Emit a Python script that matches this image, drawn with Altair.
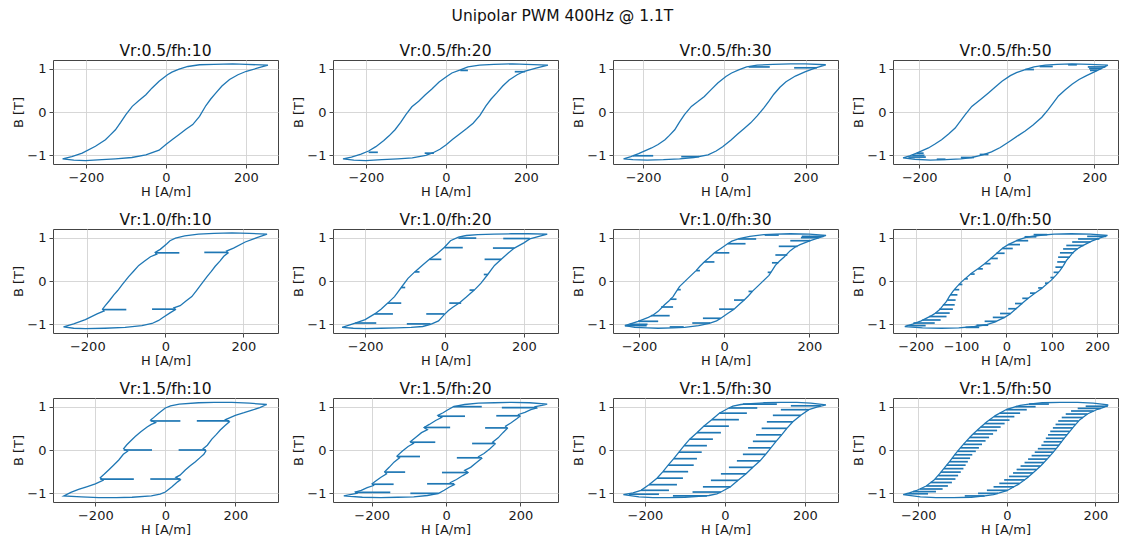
import altair as alt
import pandas as pd

FONT = "DejaVu Sans"
BLUE = "#1f77b4"
SUPTITLE = "Unipolar PWM 400Hz @ 1.1T"

# ---------------- data: (H [A/m], B [T]) ----------------
# upper branch: right tip -> left tip ; lower branch: left tip -> right tip
# spikes (minor loops): (B, H at branch, H at tip)

A_up = [(255,1.08),(200,1.10),(167,1.11),(120,1.10),(84,1.09),(55,1.05),(33,0.99),(15,0.92),(4,0.86),(-17,0.71),(-35,0.55),(-50,0.40),(-68,0.26),(-84,0.13),(-100,-0.06),(-113,-0.24),(-126,-0.41),(-140,-0.54),(-151,-0.64),(-176,-0.79),(-209,-0.95),(-235,-1.03),(-258,-1.08)]
A_lo = [(-230,-1.11),(-201,-1.12),(-160,-1.10),(-126,-1.08),(-85,-1.05),(-50,-0.99),(-17,-0.88),(0,-0.75),(17,-0.63),(33,-0.52),(50,-0.40),(67,-0.29),(84,-0.10),(100,0.15),(112,0.30),(125,0.44),(140,0.60),(159,0.75),(180,0.86),(201,0.94),(228,1.01),(255,1.08)]
A_spk = []

B_up = [(255,1.08),(200,1.10),(167,1.11),(120,1.10),(84,1.08),(55,1.04),(36,0.97),(15,0.90),(2,0.82),(-17,0.69),(-35,0.53),(-52,0.39),(-68,0.25),(-85,0.12),(-100,-0.06),(-113,-0.24),(-127,-0.41),(-142,-0.55),(-155,-0.66),(-175,-0.80),(-193,-0.90),(-212,-0.97),(-236,-1.04),(-257,-1.08)]
B_lo = [(-230,-1.11),(-200,-1.12),(-160,-1.10),(-120,-1.08),(-84,-1.06),(-50,-1.00),(-32,-0.94),(-15,-0.86),(0,-0.76),(17,-0.63),(35,-0.50),(52,-0.38),(68,-0.26),(85,-0.08),(100,0.14),(113,0.30),(127,0.44),(142,0.60),(158,0.74),(178,0.86),(196,0.94),(225,1.01),(255,1.08)]
B_spk = [(0.96,36,55),(0.93,198,172),(-0.93,-193,-170),(-0.95,-30,-53)]

C_up = [(250,1.09),(200,1.11),(163,1.11),(120,1.10),(81,1.08),(55,1.04),(37,0.98),(18,0.90),(4,0.82),(-16,0.67),(-33,0.51),(-49,0.36),(-65,0.24),(-81,0.13),(-98,-0.06),(-110,-0.23),(-122,-0.41),(-135,-0.54),(-146,-0.64),(-163,-0.75),(-179,-0.83),(-211,-0.96),(-230,-1.03),(-248,-1.08)]
C_lo = [(-225,-1.10),(-190,-1.11),(-150,-1.10),(-110,-1.08),(-75,-1.05),(-40,-0.99),(-20,-0.90),(-4,-0.80),(16,-0.65),(33,-0.51),(49,-0.38),(65,-0.25),(81,-0.09),(98,0.10),(110,0.25),(122,0.41),(137,0.57),(152,0.70),(175,0.83),(200,0.93),(225,1.02),(250,1.09)]
C_spk = [(1.04,60,112),(1.02,228,172),(-1.01,-225,-175),(-1.03,-62,-106)]

D_up = [(231,1.08),(190,1.10),(149,1.11),(115,1.10),(88,1.08),(62,1.04),(42,0.98),(22,0.91),(8,0.84),(-11,0.71),(-27,0.57),(-42,0.44),(-60,0.29),(-80,0.13),(-95,-0.06),(-107,-0.22),(-118,-0.37),(-133,-0.51),(-149,-0.64),(-164,-0.74),(-179,-0.83),(-206,-0.95),(-222,-1.01),(-237,-1.06)]
D_lo = [(-210,-1.09),(-175,-1.11),(-140,-1.10),(-105,-1.08),(-80,-1.05),(-55,-0.99),(-35,-0.92),(-15,-0.82),(6,-0.68),(25,-0.55),(42,-0.44),(60,-0.30),(80,-0.12),(95,0.06),(107,0.22),(118,0.37),(133,0.51),(149,0.64),(165,0.75),(182,0.84),(205,0.95),(231,1.08)]
D_spk = [(0.98,42,62),(1.05,75,105),(1.09,140,160),(1.04,225,185),(1.00,216,188),(0.96,206,190),(-1.04,-225,-185),(-1.00,-216,-188),(-0.95,-206,-190),(-0.98,-42,-62),(-1.05,-75,-105),(-1.09,-140,-160)]

E_up = [(261,1.08),(215,1.10),(171,1.11),(125,1.10),(85,1.08),(50,1.04),(26,0.99),(12,0.93),(4,0.86),(-13,0.73),(-26,0.66),(-22,0.62),(-38,0.56),(-53,0.46),(-68,0.36),(-82,0.22),(-94,0.10),(-111,-0.09),(-122,-0.22),(-132,-0.32),(-143,-0.45),(-154,-0.57),(-161,-0.65),(-157,-0.69),(-175,-0.76),(-205,-0.89),(-235,-0.99),(-261,-1.06)]
E_lo = [(-235,-1.09),(-205,-1.10),(-155,-1.09),(-103,-1.07),(-60,-1.03),(-34,-0.98),(-17,-0.91),(-7,-0.85),(13,-0.73),(26,-0.66),(22,-0.62),(38,-0.57),(53,-0.46),(68,-0.36),(80,-0.22),(91,-0.09),(107,0.10),(118,0.22),(128,0.34),(140,0.46),(150,0.57),(161,0.65),(157,0.69),(175,0.76),(205,0.90),(235,1.00),(261,1.08)]
E_spk = [(0.65,-26,36),(-0.66,-161,-100),(-0.65,26,-34),(0.66,161,100)]

F_up = [(259,1.08),(210,1.09),(168,1.09),(125,1.08),(84,1.07),(55,1.05),(35,1.01),(15,0.93),(0,0.78),(-10,0.70),(-20,0.62),(-38,0.50),(-55,0.37),(-75,0.21),(-92,0.06),(-109,-0.15),(-118,-0.26),(-126,-0.36),(-143,-0.51),(-160,-0.65),(-176,-0.76),(-200,-0.89),(-225,-0.97),(-258,-1.07)]
F_lo = [(-230,-1.09),(-200,-1.10),(-160,-1.09),(-120,-1.08),(-84,-1.07),(-55,-1.05),(-35,-1.00),(-15,-0.92),(0,-0.77),(10,-0.68),(20,-0.61),(38,-0.50),(55,-0.37),(75,-0.21),(92,-0.05),(109,0.15),(118,0.26),(126,0.36),(143,0.50),(160,0.64),(176,0.76),(200,0.88),(215,0.97),(259,1.08)]
F_spk = [(0.99,35,80),(0.77,0,46),(0.50,-38,-8),(0.21,-75,-63),(-0.15,-109,-99),(-0.51,-143,-109),(-0.76,-176,-130),(-0.97,-225,-172),
         (-0.99,-35,-95),(-0.76,0,-46),(-0.51,42,12),(-0.21,75,63),(0.15,109,99),(0.50,143,101),(0.76,176,122),(0.98,215,148)]

G_up = [(239,1.05),(200,1.08),(155,1.09),(120,1.08),(93,1.07),(60,1.03),(35,0.98),(18,0.92),(8,0.86),(-8,0.75),(-23,0.65),(-35,0.54),(-47,0.44),(-57,0.34),(-66,0.24),(-85,0.06),(-105,-0.13),(-113,-0.25),(-120,-0.36),(-130,-0.46),(-140,-0.55),(-155,-0.70),(-166,-0.78),(-178,-0.84),(-202,-0.93),(-233,-1.03)]
G_lo = [(-210,-1.07),(-180,-1.08),(-155,-1.09),(-120,-1.08),(-93,-1.07),(-60,-1.03),(-35,-0.98),(-18,-0.92),(-8,-0.86),(8,-0.75),(23,-0.65),(35,-0.54),(47,-0.44),(57,-0.34),(66,-0.24),(85,-0.06),(105,0.13),(113,0.25),(120,0.36),(130,0.46),(140,0.55),(155,0.70),(166,0.78),(178,0.84),(202,0.93),(239,1.05)]
G_spk = [(1.06,95,128),(0.97,33,75),(0.86,8,50),(0.65,-23,12),(0.44,-47,-23),(0.24,-66,-57),(-0.20,-110,-102),(-0.42,-127,-112),(-0.60,-148,-120),(-0.80,-172,-128),(-0.93,-202,-155),(-1.03,-233,-182),(-1.00,-222,-180),
         (-1.06,-95,-128),(-0.97,-33,-75),(-0.86,-8,-50),(-0.65,23,-12),(-0.44,47,23),(-0.24,66,57),(0.20,110,102),(0.42,127,112),(0.60,148,120),(0.80,172,128),(0.93,202,155),(1.03,233,182),(1.00,222,180)]

H_up = [(223,1.05),(185,1.08),(143,1.09),(105,1.08),(70,1.05),(45,1.01),(26,0.95),(4,0.84),(-8,0.76),(-18,0.67),(-33,0.53),(-48,0.40),(-62,0.29),(-77,0.18),(-99,-0.02),(-110,-0.14),(-118,-0.24),(-126,-0.36),(-132,-0.47),(-140,-0.57),(-147,-0.66),(-156,-0.74),(-165,-0.80),(-188,-0.92),(-205,-0.99),(-224,-1.05)]
H_lo = [(-185,-1.08),(-143,-1.09),(-105,-1.08),(-70,-1.05),(-45,-1.01),(-26,-0.95),(-4,-0.84),(8,-0.76),(18,-0.67),(33,-0.53),(48,-0.40),(62,-0.29),(77,-0.18),(99,0.02),(110,0.14),(118,0.24),(126,0.36),(132,0.47),(140,0.57),(147,0.66),(156,0.74),(165,0.80),(188,0.92),(205,0.99),(223,1.05)]
H_spk = [(1.07,60,90),(1.02,40,66),(0.93,22,48),(0.84,4,30),(0.75,-9,14),(0.64,-22,-4),(0.52,-35,-19),(0.40,-48,-35),(0.28,-63,-52),(0.16,-79,-70),(0.05,-92,-85),(-0.08,-105,-97),(-0.20,-115,-104),(-0.32,-124,-108),(-0.44,-130,-112),(-0.55,-140,-114),(-0.65,-148,-118),(-0.74,-157,-125),(-0.82,-170,-132),(-0.90,-185,-145),(-0.97,-205,-158),(-1.03,-220,-178),
         (-1.07,-60,-90),(-1.02,-40,-66),(-0.93,-22,-48),(-0.84,-4,-30),(-0.75,9,-14),(-0.64,22,4),(-0.52,35,19),(-0.40,48,35),(-0.28,63,52),(-0.16,79,70),(-0.05,92,85),(0.08,105,97),(0.20,115,104),(0.32,124,108),(0.44,130,112),(0.55,140,114),(0.65,148,118),(0.74,157,125),(0.82,170,132),(0.90,185,145),(0.97,205,158),(1.03,220,178)]

I_up = [(290,1.05),(240,1.08),(190,1.10),(140,1.10),(95,1.09),(40,1.06),(15,1.02),(0,0.97),(-19,0.85),(-36,0.73),(-42,0.69),(-28,0.63),(-40,0.59),(-52,0.53),(-70,0.42),(-86,0.31),(-100,0.20),(-110,0.12),(-119,0.03),(-108,-0.03),(-120,-0.10),(-133,-0.23),(-148,-0.35),(-162,-0.46),(-175,-0.56),(-186,-0.64),(-178,-0.70),(-200,-0.78),(-225,-0.85),(-248,-0.91),(-270,-0.98),(-290,-1.06)]
I_lo = [(-240,-1.08),(-190,-1.10),(-140,-1.10),(-95,-1.09),(-40,-1.06),(-15,-1.02),(0,-0.97),(19,-0.85),(36,-0.73),(43,-0.69),(30,-0.63),(42,-0.58),(57,-0.46),(72,-0.36),(86,-0.27),(100,-0.17),(110,-0.10),(116,-0.02),(108,0.03),(120,0.11),(133,0.25),(146,0.36),(157,0.46),(170,0.56),(183,0.65),(172,0.70),(200,0.80),(225,0.86),(248,0.92),(270,0.98),(290,1.05)]
I_spk = [(0.67,-42,43),(0.00,-119,-38),(-0.67,-186,-90),(-0.67,43,-43),(0.00,116,38),(0.67,183,90)]

J_up = [(272,1.06),(225,1.09),(176,1.10),(130,1.09),(87,1.08),(50,1.05),(20,1.00),(5,0.93),(-8,0.86),(-22,0.80),(-12,0.75),(-28,0.68),(-45,0.59),(-59,0.52),(-50,0.47),(-66,0.40),(-82,0.29),(-96,0.19),(-88,0.15),(-102,0.08),(-118,-0.03),(-132,-0.14),(-125,-0.18),(-140,-0.28),(-153,-0.40),(-165,-0.50),(-160,-0.55),(-175,-0.63),(-190,-0.72),(-199,-0.78),(-195,-0.82),(-212,-0.87),(-228,-0.93),(-244,-0.97),(-240,-1.00),(-258,-1.03),(-275,-1.06)]
J_lo = [(-225,-1.09),(-176,-1.10),(-130,-1.09),(-87,-1.08),(-50,-1.05),(-20,-1.00),(-5,-0.93),(8,-0.86),(22,-0.80),(12,-0.75),(28,-0.68),(45,-0.59),(59,-0.52),(50,-0.47),(66,-0.40),(82,-0.29),(96,-0.19),(88,-0.15),(102,-0.08),(118,0.03),(132,0.14),(125,0.18),(140,0.28),(153,0.40),(165,0.50),(160,0.55),(175,0.63),(190,0.72),(199,0.78),(195,0.82),(212,0.87),(228,0.93),(244,0.97),(240,1.00),(258,1.03),(272,1.06)]
J_spk = [(1.00,20,96),(0.78,-22,51),(0.52,-59,11),(0.18,-96,-29),(-0.15,-132,-70),(-0.51,-165,-110),(-0.79,-199,-141),(-0.98,-244,-150),
         (-1.00,-20,-96),(-0.78,22,-51),(-0.52,59,-11),(-0.18,96,29),(0.15,132,70),(0.51,165,105),(0.79,199,135),(0.98,244,150)]

K_up = [(253,1.04),(215,1.08),(180,1.10),(140,1.10),(100,1.09),(65,1.07),(40,1.05),(20,1.01),(10,0.97),(-14,0.85),(-33,0.70),(-53,0.55),(-70,0.40),(-88,0.25),(-102,0.10),(-115,-0.05),(-128,-0.20),(-142,-0.35),(-155,-0.50),(-170,-0.65),(-190,-0.80),(-210,-0.93),(-230,-0.99),(-254,-1.03)]
K_lo = [(-215,-1.08),(-180,-1.10),(-140,-1.10),(-100,-1.09),(-65,-1.07),(-40,-1.05),(-20,-1.01),(-10,-0.97),(14,-0.85),(33,-0.70),(53,-0.55),(70,-0.40),(88,-0.25),(102,-0.10),(115,0.05),(128,0.20),(142,0.35),(155,0.50),(170,0.65),(190,0.80),(210,0.93),(230,0.99),(253,1.04)]
K_spk = [(1.06,45,130),(0.97,10,81),(0.85,-14,55),(0.70,-33,35),(0.55,-53,10),(0.40,-70,-10),(0.25,-88,-30),(0.10,-102,-45),(-0.05,-115,-58),(-0.20,-128,-70),(-0.35,-142,-78),(-0.50,-155,-92),(-0.65,-170,-105),(-0.80,-190,-120),(-0.93,-210,-140),(-1.02,-240,-165),
         (-1.06,-45,-130),(-0.97,-10,-81),(-0.85,14,-55),(-0.70,33,-35),(-0.55,53,-10),(-0.40,70,10),(-0.25,88,30),(-0.10,102,45),(0.05,115,58),(0.20,128,70),(0.35,142,78),(0.50,155,92),(0.65,170,105),(0.80,190,120),(0.93,210,140),(1.02,240,165)]

L_up = [(229,1.04),(195,1.08),(160,1.10),(120,1.10),(80,1.09),(50,1.06),(30,1.03),(0,0.94),(-25,0.80),(-45,0.65),(-62,0.50),(-78,0.35),(-92,0.20),(-105,0.05),(-117,-0.10),(-128,-0.25),(-140,-0.40),(-152,-0.55),(-165,-0.70),(-182,-0.83),(-205,-0.94),(-220,-0.99),(-234,-1.03)]
L_lo = [(-195,-1.08),(-160,-1.10),(-120,-1.10),(-80,-1.09),(-50,-1.06),(-30,-1.03),(0,-0.94),(25,-0.80),(45,-0.65),(62,-0.50),(78,-0.35),(92,-0.20),(105,-0.05),(117,0.10),(128,0.25),(140,0.40),(152,0.55),(165,0.70),(182,0.83),(205,0.94),(220,0.99),(229,1.04)]
L_spk = [(1.06,50,95),(1.00,20,65),(0.93,-2,45),(0.85,-16,30),(0.77,-29,17),(0.69,-40,6),(0.61,-50,-5),(0.53,-59,-14),(0.45,-67,-22),(0.37,-76,-31),(0.29,-84,-40),(0.21,-91,-48),(0.13,-98,-56),(0.05,-105,-63),(-0.03,-111,-70),(-0.11,-118,-78),(-0.19,-124,-83),(-0.27,-130,-88),(-0.35,-136,-93),(-0.43,-142,-98),(-0.51,-149,-104),(-0.59,-155,-110),(-0.67,-162,-116),(-0.75,-172,-124),(-0.83,-182,-133),(-0.90,-196,-145),(-0.96,-212,-160),(-1.01,-228,-178),
         (-1.06,-50,-95),(-1.00,-20,-65),(-0.93,2,-45),(-0.85,16,-30),(-0.77,29,-17),(-0.69,40,-6),(-0.61,50,5),(-0.53,59,14),(-0.45,67,22),(-0.37,76,31),(-0.29,84,40),(-0.21,91,48),(-0.13,98,56),(-0.05,105,63),(0.03,111,70),(0.11,118,78),(0.19,124,83),(0.27,130,88),(0.35,136,93),(0.43,142,98),(0.51,149,104),(0.59,155,110),(0.67,162,116),(0.75,172,124),(0.83,182,133),(0.90,196,145),(0.96,212,160),(1.01,228,178)]

PANELS = [
    ("Vr:0.5/fh:10", A_up, A_lo, A_spk, [-282, 280], [-200, 0, 200]),
    ("Vr:0.5/fh:20", B_up, B_lo, B_spk, [-282, 280], [-200, 0, 200]),
    ("Vr:0.5/fh:30", C_up, C_lo, C_spk, [-274, 280], [-200, 0, 200]),
    ("Vr:0.5/fh:50", D_up, D_lo, D_spk, [-260, 254], [-200, 0, 200]),
    ("Vr:1.0/fh:10", E_up, E_lo, E_spk, [-288, 289], [-200, 0, 200]),
    ("Vr:1.0/fh:20", F_up, F_lo, F_spk, [-281, 286], [-200, 0, 200]),
    ("Vr:1.0/fh:30", G_up, G_lo, G_spk, [-261, 267], [-200, 0, 200]),
    ("Vr:1.0/fh:50", H_up, H_lo, H_spk, [-250, 246], [-200, -100, 0, 100, 200]),
    ("Vr:1.5/fh:10", I_up, I_lo, I_spk, [-321, 322], [-200, 0, 200]),
    ("Vr:1.5/fh:20", J_up, J_lo, J_spk, [-304, 301], [-200, 0, 200]),
    ("Vr:1.5/fh:30", K_up, K_lo, K_spk, [-280, 283], [-200, 0, 200]),
    ("Vr:1.5/fh:50", L_up, L_lo, L_spk, [-257, 251], [-200, 0, 200]),
]

Y_DOMAIN = [-1.2, 1.2]
Y_TICKS = [-1, 0, 1]


def make_panel(title, up, lo, spk, xdom, xticks):
    pts = up + lo
    loop = pd.DataFrame({"H": [p[0] for p in pts], "B": [p[1] for p in pts],
                         "i": list(range(len(pts)))})
    xs = alt.Scale(domain=xdom, nice=False, zero=False)
    ys = alt.Scale(domain=Y_DOMAIN, nice=False, zero=False)
    xax = alt.Axis(values=xticks, title="H [A/m]", format="d")
    yax = alt.Axis(values=Y_TICKS, title="B [T]", format="d")
    line = alt.Chart(loop).mark_line(color=BLUE, strokeWidth=1.3, clip=True).encode(
        x=alt.X("H:Q", scale=xs, axis=xax),
        y=alt.Y("B:Q", scale=ys, axis=yax),
        order="i:Q",
    )
    layers = [line]
    if spk:
        sdf = pd.DataFrame({"B": [s[0] for s in spk], "H0": [s[1] for s in spk],
                            "H1": [s[2] for s in spk]})
        rule = alt.Chart(sdf).mark_rule(color=BLUE, strokeWidth=1.7, clip=True).encode(
            x=alt.X("H0:Q", scale=xs, axis=xax),
            x2="H1:Q",
            y=alt.Y("B:Q", scale=ys, axis=yax),
        )
        layers.append(rule)
    return alt.layer(*layers).properties(
        width=225, height=104,
        title=alt.TitleParams(title, font=FONT, fontSize=15.5, fontWeight="normal",
                              color="#111111", offset=1, anchor="middle"),
    )


chart = alt.concat(
    *[make_panel(*p) for p in PANELS],
    columns=4, spacing={"row": 65, "column": 55}, bounds="flush",
    title=alt.TitleParams(SUPTITLE, font=FONT, fontSize=15.5, fontWeight="normal",
                          color="#111111", anchor="middle", dx=-3, offset=19),
).properties(
    padding={"left": 12, "top": 8, "right": 2, "bottom": 2}
).configure(
    background="white"
).configure_view(
    stroke="#444444", strokeWidth=1
).configure_axis(
    domain=False, grid=True, gridColor="#d3d3d3", gridWidth=0.9,
    tickColor="#333333", tickSize=4, tickWidth=0.9,
    labelFont=FONT, labelFontSize=13, labelColor="#1a1a1a", labelPadding=3,
    labelFlush=False,
    titleFont=FONT, titleFontSize=13, titleFontWeight="normal", titleColor="#1a1a1a",
    titlePadding=1,
)

chart.save("out.html", embed_options={"renderer": "svg", "actions": False})
